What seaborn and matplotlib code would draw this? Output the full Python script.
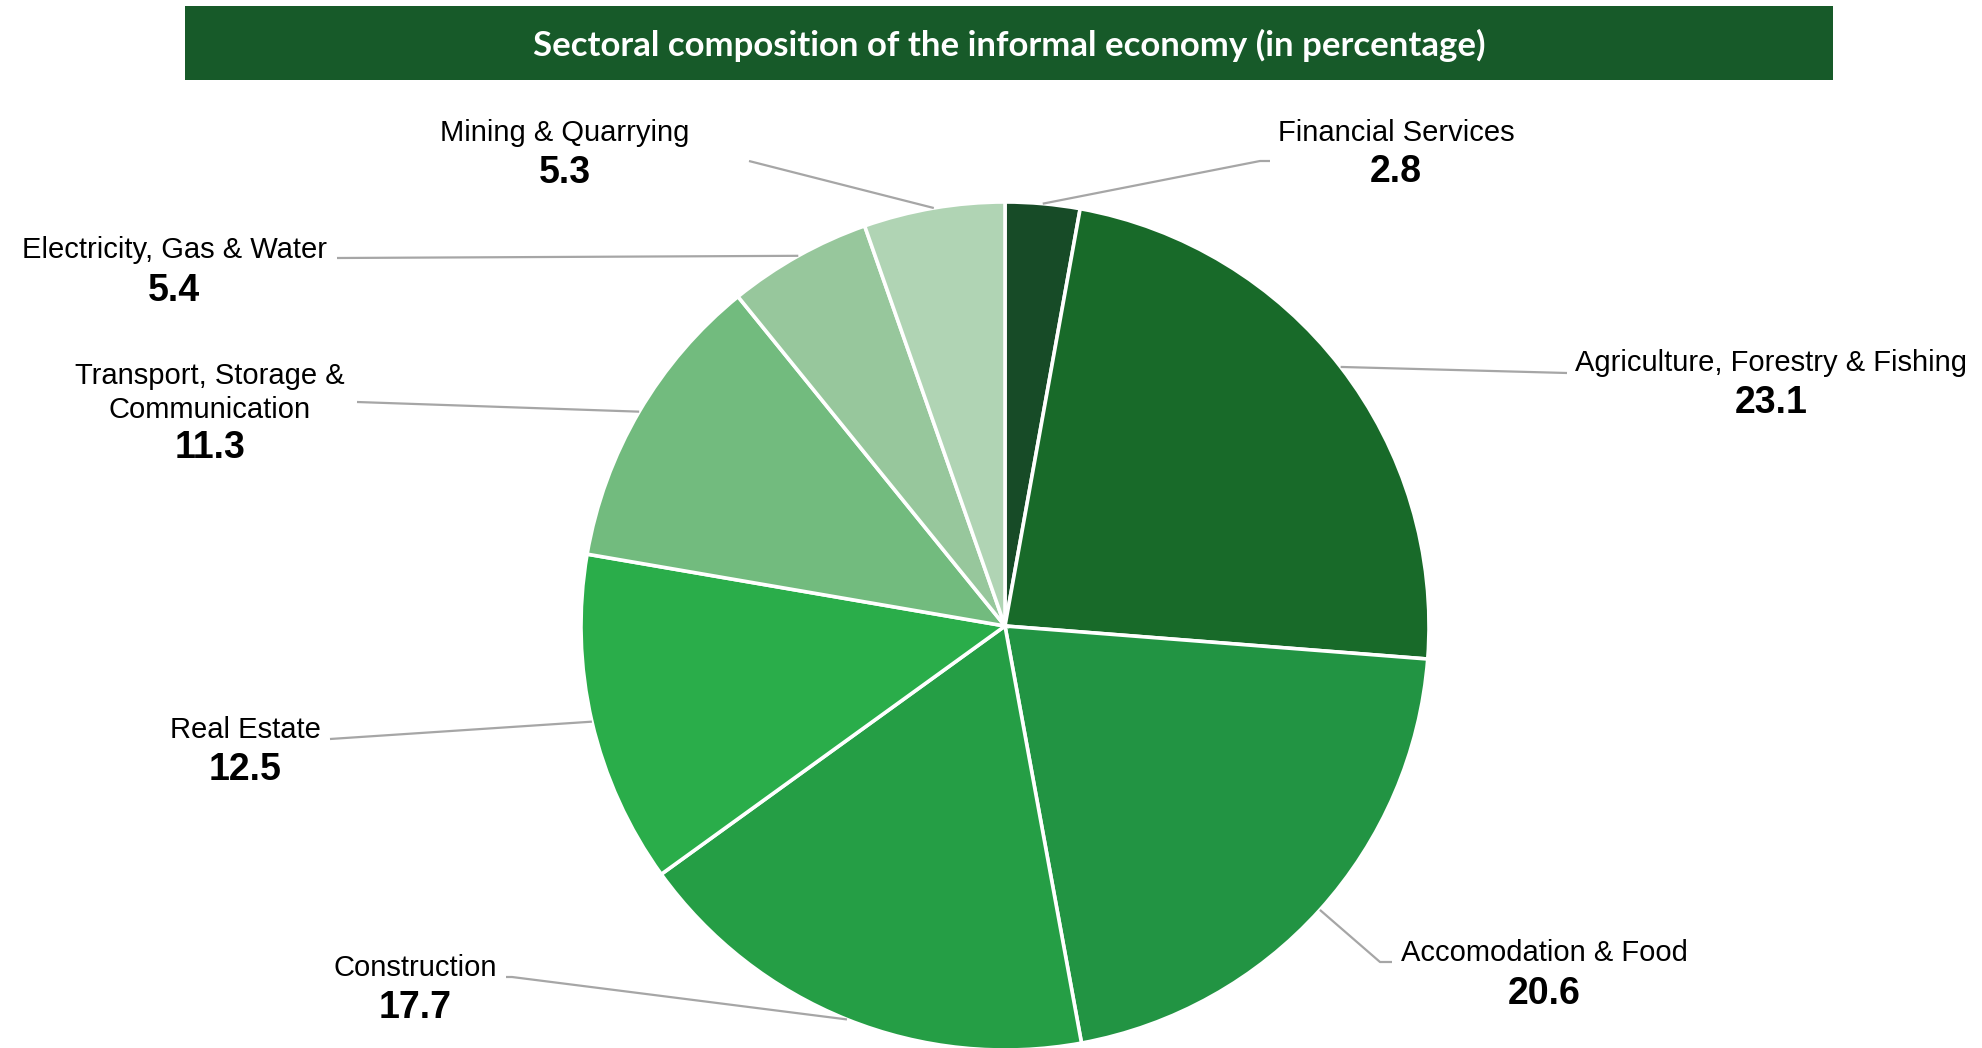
import matplotlib
matplotlib.use("Agg")
import matplotlib.pyplot as plt
import seaborn as sns
import numpy as np

# Sector shares of the informal economy (percent)
sectors = [
    "Financial Services",
    "Agriculture, Forestry & Fishing",
    "Accomodation & Food",
    "Construction",
    "Real Estate",
    "Transport, Storage &\nCommunication",
    "Electricity, Gas & Water",
    "Mining & Quarrying",
]
shares = [2.8, 23.1, 20.6, 17.7, 12.5, 11.3, 5.4, 5.3]
colors = ["#174B27", "#186A29", "#229443", "#259E45",
          "#2AAD4A", "#72BB7E", "#97C79C", "#B0D4B4"]

title = "Sectoral composition of the informal economy (in percentage)"

# Layout (pixel coordinates, origin at top-left of the canvas)
W, H = 1982, 1048
center = (1005, 626)
radius = 424
# label centre x, name y, value y, elbow point of leader, outer end of leader
label_layout = [
    (1396, 133, 172, (1260, 161), (1270, 161)),
    (1771, 363, 403, (1567, 373), (1567, 373)),
    (1544, 953, 994, (1380, 962), (1392, 962)),
    (415, 968, 1008, (512, 977), (506, 977)),
    (245, 730, 770, (330, 739), (330, 739)),
    (210, 393, 448, (357, 402), (357, 402)),
    (174, 250, 291, (337, 258), (337, 258)),
    (565, 133, 173, (749, 161), (749, 161)),
]

sns.set_theme(style="white")
plt.rcParams["font.family"] = ["Liberation Sans", "DejaVu Sans"]

fig = plt.figure(figsize=(W / 100, H / 100), dpi=100)
ax = fig.add_axes([0, 0, 1, 1])

cx, cy = center[0], H - center[1]
wedges, _ = ax.pie(
    shares,
    colors=colors,
    startangle=90,
    counterclock=False,
    center=(cx, cy),
    radius=radius,
    wedgeprops=dict(edgecolor="white", linewidth=2.6),
    frame=True,
)
ax.set_xlim(0, W)
ax.set_ylim(0, H)
ax.set_aspect("equal")
ax.axis("off")

# Leader lines and labels
line_color = "#A6A6A6"
for w, name, val, (lx, ny, vy, elbow, end) in zip(wedges, sectors, shares, label_layout):
    mid = np.deg2rad((w.theta1 + w.theta2) / 2)
    px = cx + radius * np.cos(mid)
    py = cy + radius * np.sin(mid)
    xs = [px, elbow[0], end[0]]
    ys = [py, H - elbow[1], H - end[1]]
    ax.plot(xs, ys, color=line_color, lw=1.6, solid_capstyle="butt", zorder=1)
    ax.text(lx, H - ny, name, ha="center", va="center", fontsize=21,
            color="#000000", linespacing=1.3)
    ax.text(lx, H - vy, f"{val:.1f}", ha="center", va="center", fontsize=27,
            fontweight="bold", color="#000000")

# Title banner
ax.add_patch(plt.Rectangle((185, H - 80), 1648, 74, facecolor="#175A29",
                           edgecolor="none", zorder=3))
ax.text((185 + 1833) / 2, H - 45, title, ha="center", va="center",
        fontsize=25, fontweight="bold", color="white",
        family=["Lato", "DejaVu Sans"], zorder=4)

fig.savefig("out.png", dpi=100)
